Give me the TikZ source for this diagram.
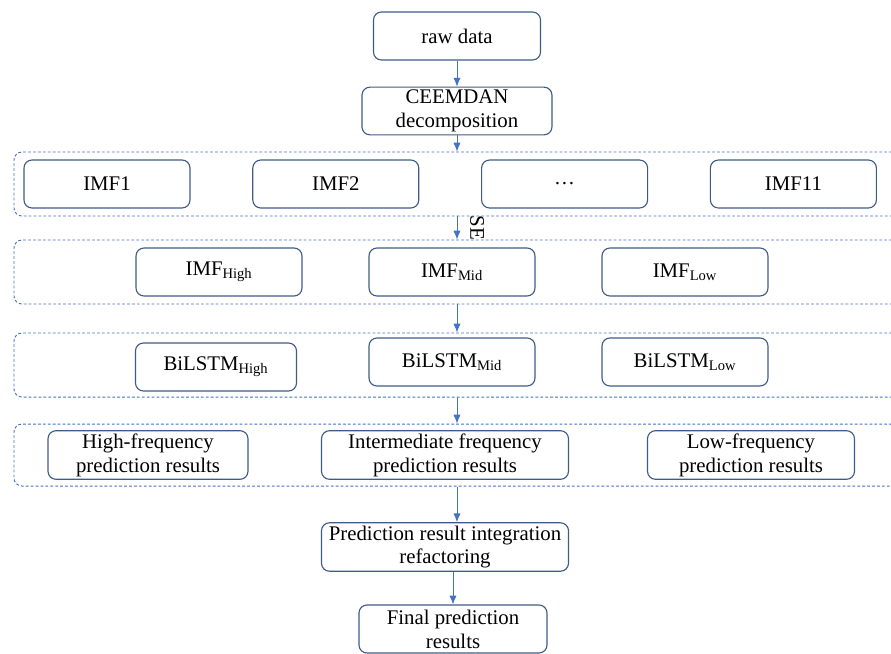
\documentclass[tikz,border=0pt]{standalone}
\usepackage{fontspec}
\setmainfont{Liberation Serif}
\newfontfamily\timesfont{Liberation Serif}
\usetikzlibrary{shapes,arrows.meta}
\definecolor{boxblue}{HTML}{3E5A86}
\definecolor{lineblue}{HTML}{4472C4}

\begin{document}
\begin{tikzpicture}[node distance = 2cm, auto, semithick, font=\timesfont\fontsize{14.8}{17}\selectfont]
  \tikzstyle{block} = [rectangle, draw=boxblue, rounded corners=2mm, align=center,
    minimum width=4.15cm, minimum height=1.2cm, line width=0.8pt, inner sep=2pt]
  \tikzstyle{group} = [rectangle, draw=lineblue, dash pattern=on 2pt off 1.5pt,
    rounded corners=2mm, minimum width=22.15cm, minimum height=1.6cm, line width=0.7pt]
  \tikzstyle{line} = [draw=lineblue, -{Latex[length=2.2mm, width=1.8mm]}, line width=0.6pt]

  \clip (-11.425,0.9) rectangle (10.85,-15.425);

  % Place nodes
  \node [block, minimum width=4.175cm] (raw) {raw data};
  \node [block, below of=raw, minimum width=4.75cm, minimum height=1.175cm,
    node distance=1.875cm] (ceemdan) {CEEMDAN\\decomposition};

  \node [group, below of=ceemdan, node distance=1.825cm] (imfs) {};
  \node [block, left of=imfs, node distance=3.03cm] (imf2) {IMF2};
  \node [block, left of=imf2, node distance=5.72cm] (imf1) {IMF1};
  \node [block, right of=imf2, node distance=5.72cm] (dots) {\dots};
  \node [block, right of=dots, node distance=5.72cm] (imf11) {IMF11};

  \node [group, below of=imfs, node distance=2.2cm] (bands) {};
  \node [block, left of=bands, node distance=1.25mm] (imfmid) {IMF\textsubscript{Mid}};
  \node [block, left of=imfmid, node distance=5.825cm] (imfhigh) {IMF\textsubscript{High}};
  \node [block, right of=imfmid, node distance=5.825cm] (imflow) {IMF\textsubscript{Low}};

  \node [group, below of=bands, node distance=2.325cm] (models) {};
  \node [block, below of=imfmid, node distance=2.25cm] (lstmmid) {BiLSTM\textsubscript{Mid}};
  \node [block, left of=lstmmid, node distance=5.9cm, yshift=-1.25mm,
    minimum width=4.025cm] (lstmhigh) {BiLSTM\textsubscript{High}};
  \node [block, right of=lstmmid, node distance=5.825cm] (lstmlow) {BiLSTM\textsubscript{Low}};

  \node [group, below of=models, node distance=2.25cm, minimum height=1.55cm] (preds) {};
  \node [block, left of=preds, node distance=3mm, minimum width=6.175cm] (midres)
        {Intermediate frequency\\prediction results};
  \node [block, left of=midres, node distance=7.425cm, minimum width=5cm] (highres)
        {High-frequency\\prediction results};
  \node [block, right of=midres, node distance=7.65cm, minimum width=5.175cm] (lowres)
        {Low-frequency\\prediction results};

  \node [block, below of=midres, node distance=2.3cm, minimum width=6.175cm] (integ)
        {Prediction result integration\\refactoring};
  \node [block, below of=integ, node distance=2.05cm, xshift=2mm, minimum width=4.7cm] (final)
        {Final prediction\\results};

  % Draw edges
  \path [line] (raw) -- (ceemdan);
  \path [line] (ceemdan) -- (imfs);
  \path [line] (imfs) -- node [auto=false, anchor=south, rotate=-90, inner sep=3.2mm] {SE} (bands);
  \path [line] (bands) -- (models);
  \path [line] (models) -- (preds);
  \path [line] (preds) -- (preds |- integ.north);
  \path [line] (integ.south -| final) -- (final);

\end{tikzpicture}
\end{document}
